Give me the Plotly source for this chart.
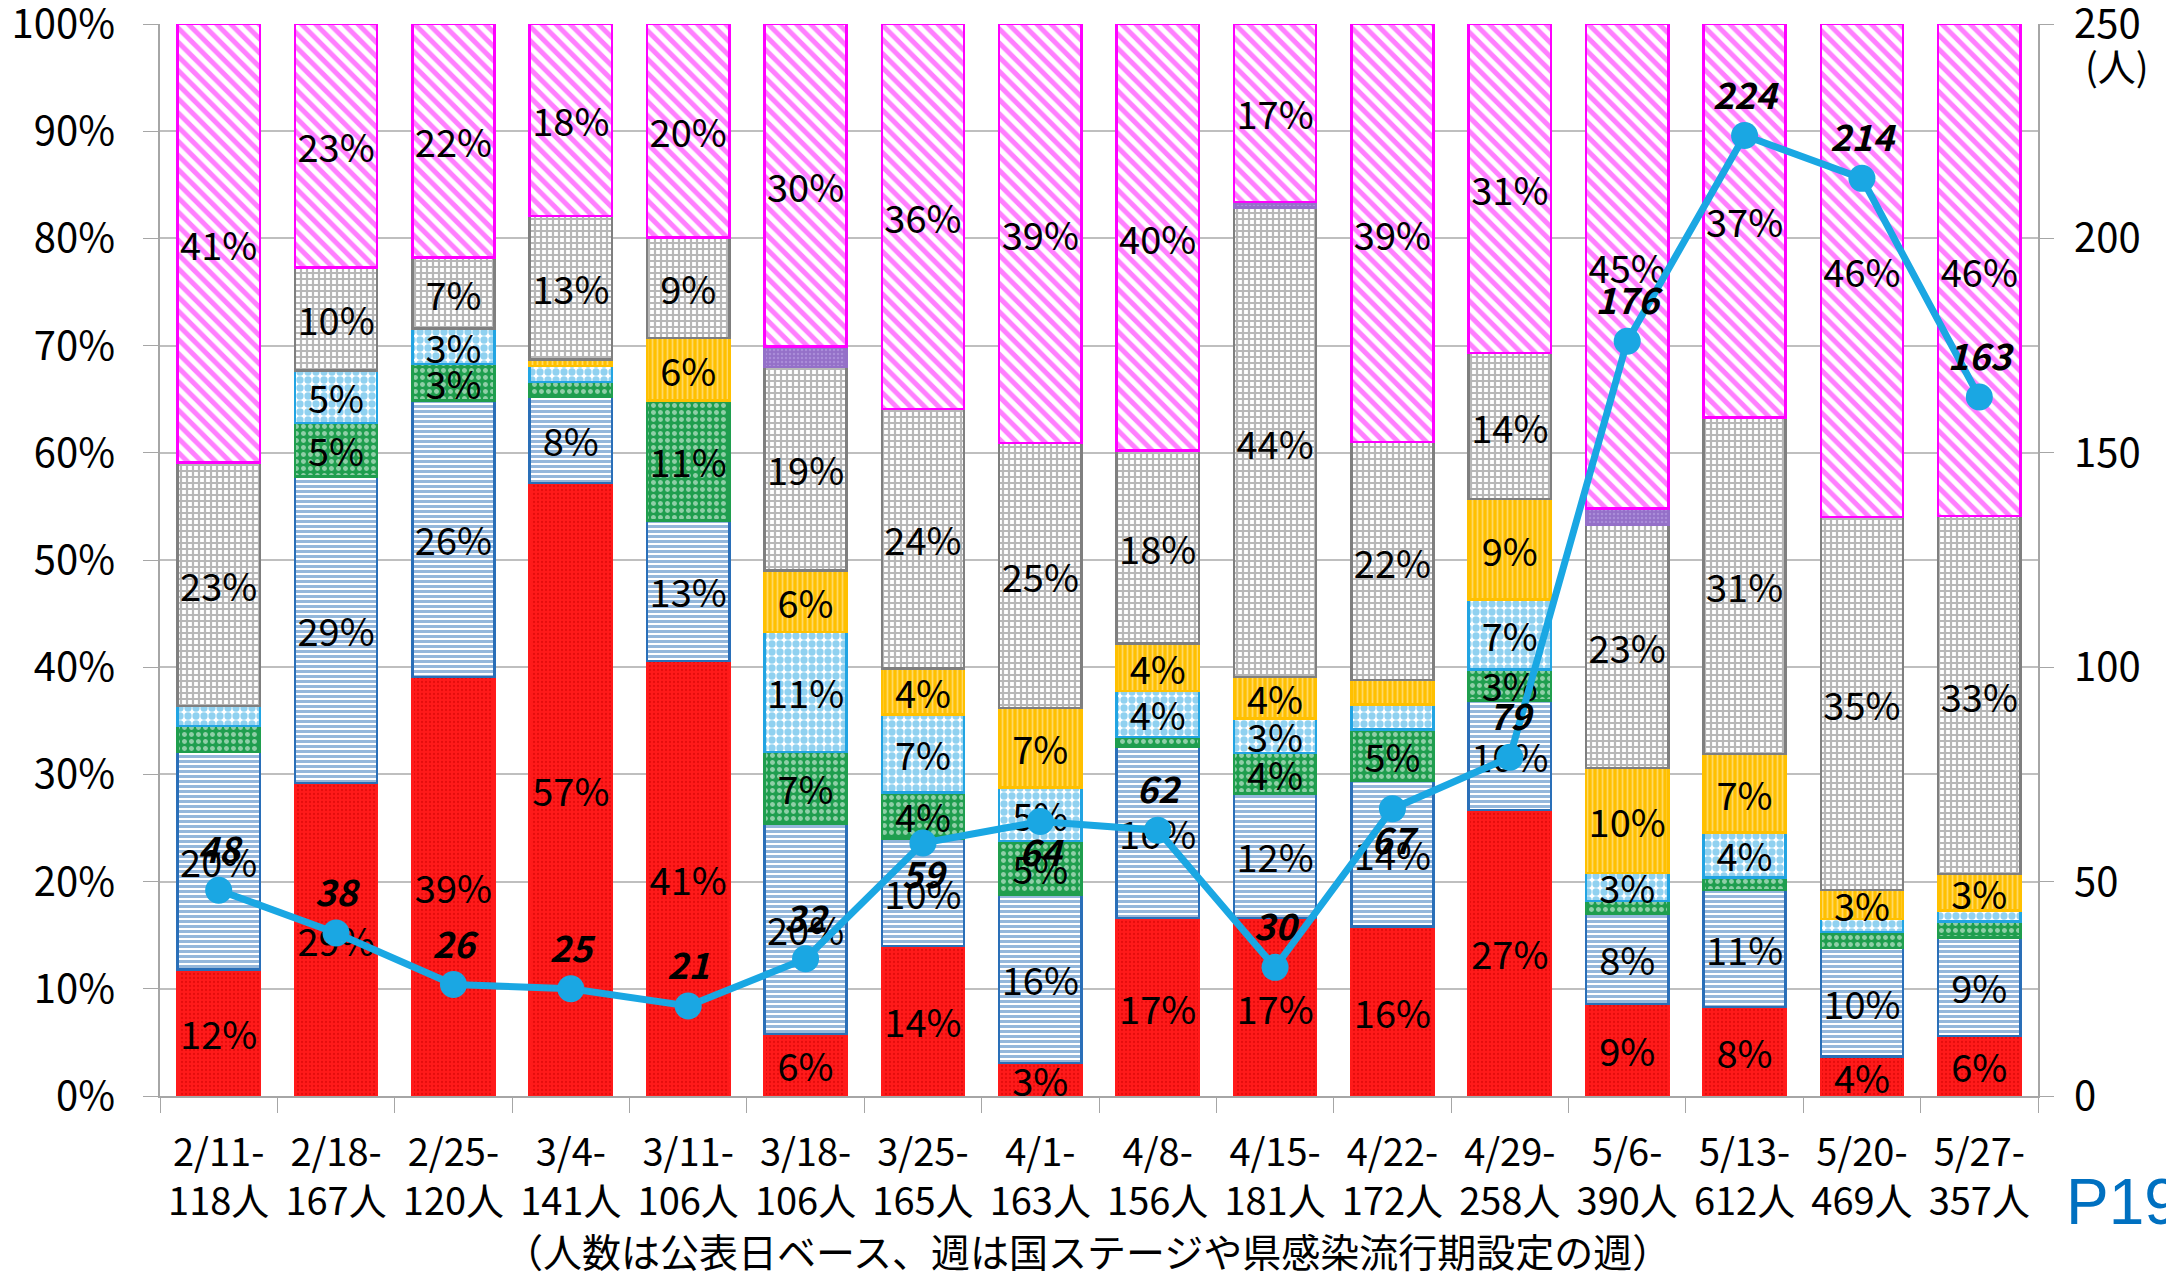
import plotly.graph_objects as go

weeks = ["2/11-", "2/18-", "2/25-", "3/4-", "3/11-", "3/18-", "3/25-", "4/1-",
         "4/8-", "4/15-", "4/22-", "4/29-", "5/6-", "5/13-", "5/20-", "5/27-"]
totals = [118, 167, 120, 141, 106, 106, 165, 163, 156, 181, 172, 258, 390, 612, 469, 357]

red = [11.8, 29.2, 39.1, 57.2, 40.6, 5.8, 14.0, 3.1, 16.6, 16.6, 15.8, 26.7, 8.6, 8.3, 3.7, 5.6]
blue = [20.3, 28.6, 25.8, 8.0, 13.1, 19.6, 10.0, 15.7, 16.0, 11.6, 13.6, 10.2, 8.4, 10.9, 10.1, 9.2]
green = [2.4, 5.0, 3.4, 1.4, 11.2, 6.7, 4.3, 5.0, 0.9, 3.8, 4.8, 2.9, 1.2, 1.2, 1.5, 1.5]
cyan = [1.9, 4.9, 3.3, 1.5, 0, 11.2, 7.3, 5.0, 4.3, 3.2, 2.3, 6.5, 2.6, 4.2, 1.2, 1.0]
yellow = [0, 0, 0, 0.6, 5.8, 5.7, 4.3, 7.4, 4.4, 3.9, 2.3, 9.4, 9.8, 7.3, 2.7, 3.4]
gray = [22.7, 9.6, 6.6, 13.4, 9.4, 19.0, 24.2, 24.7, 18.0, 43.8, 22.2, 13.6, 22.7, 31.4, 34.8, 33.4]
purple = [0, 0, 0, 0, 0, 1.9, 0, 0, 0, 0.5, 0, 0, 1.5, 0, 0, 0]
magenta = [40.9, 22.7, 21.8, 17.9, 19.9, 30.1, 35.9, 39.1, 39.8, 16.6, 39.0, 30.7, 45.2, 36.7, 46.0, 45.9]

people = [48, 38, 26, 25, 21, 32, 59, 64, 62, 30, 67, 79, 176, 224, 214, 163]
label_below = [6, 7, 10]

FONT = "Noto Sans CJK JP"
xlabels = [f"{w}<br>{n}人" for w, n in zip(weeks, totals)]


def lbl(v):
    r = int(v + 0.5)
    return f"{r}%" if r >= 3 else ""


series = [
    (red, dict(shape=".", bgcolor="#ff1a1a", fgcolor="#c80000", size=4, solidity=0.25), "#ff1a1a"),
    (blue, dict(shape="-", bgcolor="white", fgcolor="#2a6fb8", size=5, solidity=0.6), "#2a6fb8"),
    (green, dict(shape=".", bgcolor="#1f9e4e", fgcolor="white", size=7, solidity=0.4), "#1f9e4e"),
    (cyan, dict(shape=".", bgcolor="white", fgcolor="#22a4e2", size=8, solidity=0.65), "#22a4e2"),
    (yellow, dict(shape="|", bgcolor="#ffc000", fgcolor="#fff2cc", size=5, solidity=0.35), "#ffc000"),
    (gray, dict(shape="+", bgcolor="white", fgcolor="#707070", size=6, solidity=0.6), "#7f7f7f"),
    (purple, dict(shape=".", bgcolor="#9470c8", fgcolor="#c0a8e8", size=4, solidity=0.3), "#9470c8"),
    (magenta, dict(shape="\\", bgcolor="white", fgcolor="#ff00ff", size=10, solidity=0.5), "#ff00ff"),
]

fig = go.Figure()
for vals, pat, lc in series:
    fig.add_trace(go.Bar(
        x=xlabels, y=vals,
        marker=dict(color=pat["bgcolor"], pattern=pat, line=dict(color=lc, width=2.5)),
        text=[lbl(v) for v in vals],
        textposition="inside", insidetextanchor="middle",
        textangle=0, constraintext="none",
        insidetextfont=dict(family=FONT, size=38, color="black"),
        hoverinfo="skip", showlegend=False,
    ))

fig.add_trace(go.Scatter(
    x=xlabels, y=people, yaxis="y2",
    mode="lines+markers+text",
    line=dict(color="#1aa7e3", width=7),
    marker=dict(size=27, color="#1aa7e3"),
    text=[str(p) for p in people],
    textposition=["bottom center" if i in label_below else "top center" for i in range(len(people))],
    textfont=dict(family=FONT, size=36, color="black", weight="bold", style="italic"),
    showlegend=False, hoverinfo="skip", cliponaxis=False,
))

fig.update_layout(
    width=2166, height=1266,
    margin=dict(l=152, r=136, t=16, b=178),
    paper_bgcolor="white", plot_bgcolor="white",
    barmode="stack", bargap=0.30,
    font=dict(family=FONT, size=38, color="black"),
    xaxis=dict(
        type="category", range=[-0.5, len(weeks) - 0.5], automargin=False,
        showline=True, linecolor="#a6a6a6", linewidth=2,
        ticks="outside", tickson="boundaries", ticklen=15, tickcolor="#a6a6a6",
        ticklabelstandoff=22,
        tickfont=dict(family=FONT, size=38), showgrid=False,
    ),
    yaxis=dict(
        range=[0, 100], tickvals=list(range(0, 101, 10)),
        ticktext=[f"{v}%" for v in range(0, 101, 10)], automargin=False,
        showgrid=True, gridcolor="#bfbfbf", gridwidth=2,
        showline=True, linecolor="#a6a6a6", linewidth=2,
        ticks="outside", ticklen=15, tickcolor="#a6a6a6",
        ticklabelstandoff=20, ticklabeloverflow="allow",
        tickfont=dict(family=FONT, size=40),
    ),
    yaxis2=dict(
        range=[0, 250], tickvals=list(range(0, 251, 50)), automargin=False,
        overlaying="y", side="right", showgrid=False,
        showline=True, linecolor="#a6a6a6", linewidth=2,
        ticks="outside", ticklen=14, tickcolor="#a6a6a6",
        ticklabelstandoff=12, ticklabeloverflow="allow",
        tickfont=dict(family=FONT, size=40),
    ),
    annotations=[
        dict(text="(人)", xref="paper", yref="paper", x=1.024, y=0.962,
             xanchor="left", yanchor="middle", showarrow=False,
             font=dict(family=FONT, size=38)),
        dict(text="（人数は公表日ベース、週は国ステージや県感染流行期設定の週）",
             xref="paper", yref="paper", x=0.494, y=-0.1440,
             xanchor="center", yanchor="middle", showarrow=False,
             font=dict(family=FONT, size=39)),
        dict(text="P19", xref="paper", yref="paper", x=1.0137, y=-0.0985,
             xanchor="left", yanchor="middle", showarrow=False,
             font=dict(family="Liberation Sans", size=64, color="#0070c0")),
    ],
)

fig.write_html("out.html")
